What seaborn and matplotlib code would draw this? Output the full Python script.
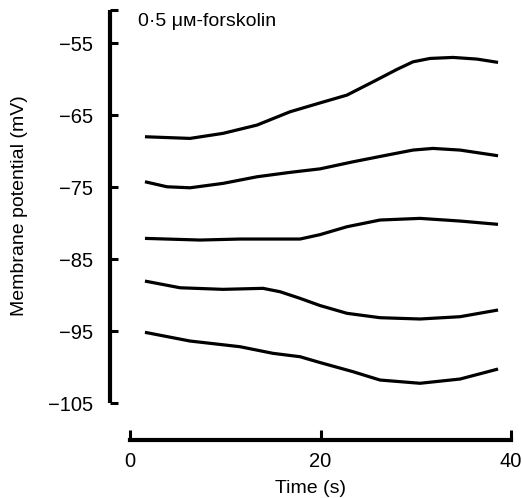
import numpy as np
import pandas as pd
import matplotlib
matplotlib.use("Agg")
import matplotlib.pyplot as plt
import seaborn as sns

# ---- data ----
t1 = [1.57, 6.30, 9.76, 13.33, 16.80, 19.95, 22.78, 25.51, 28.03, 29.71, 31.50, 33.91, 36.43, 38.64]
v1 = [-68.01, -68.24, -67.54, -66.39, -64.54, -63.31, -62.22, -60.38, -58.65, -57.60, -57.13, -56.99, -57.22, -57.68]
t2 = [1.57, 3.88, 6.30, 9.76, 13.33, 16.80, 19.95, 23.41, 26.98, 29.71, 31.81, 34.65, 38.64]
v2 = [-74.26, -74.96, -75.10, -74.49, -73.57, -72.96, -72.47, -71.49, -70.56, -69.86, -69.63, -69.86, -70.65]
t3 = [1.57, 7.35, 11.55, 17.85, 19.95, 22.78, 26.25, 30.45, 34.65, 38.64]
v3 = [-82.13, -82.36, -82.22, -82.22, -81.61, -80.51, -79.58, -79.35, -79.72, -80.18]
t4 = [1.57, 5.25, 9.76, 13.96, 15.75, 17.85, 19.95, 22.78, 26.25, 30.45, 34.65, 38.64]
v4 = [-88.06, -88.99, -89.21, -89.07, -89.54, -90.46, -91.46, -92.54, -93.15, -93.33, -93.01, -92.08]
t5 = [1.57, 6.30, 11.55, 15.01, 17.85, 19.95, 23.41, 26.25, 30.45, 34.65, 38.64]
v5 = [-95.18, -96.39, -97.18, -98.10, -98.57, -99.38, -100.65, -101.81, -102.26, -101.67, -100.28]
y_ticks = [-105, -95, -85, -75, -65, -55]
x_ticks = [0, 20, 40]

frames = []
for name, tt, vv in [("1", t1, v1), ("2", t2, v2), ("3", t3, v3), ("4", t4, v4), ("5", t5, v5)]:
    frames.append(pd.DataFrame({"time": tt, "mV": vv, "trace": name}))
df = pd.concat(frames, ignore_index=True)

sns.set_style("ticks")
plt.rcParams["font.family"] = ["Liberation Sans", "DejaVu Sans"]
plt.rcParams["text.color"] = "black"
plt.rcParams["axes.labelcolor"] = "black"
plt.rcParams["xtick.color"] = "black"
plt.rcParams["ytick.color"] = "black"
plt.rcParams["axes.edgecolor"] = "black"

W, H = 522, 498
fig = plt.figure(figsize=(W / 100, H / 100), dpi=100)
ax = fig.add_axes([110 / W, (H - 403) / H, (511 - 110) / W, (403 - 10) / H])

sns.lineplot(data=df, x="time", y="mV", units="trace", estimator=None,
             color="black", lw=2.3, ax=ax, legend=False,
             solid_joinstyle="round", solid_capstyle="butt")

ax.set_xlim(-2.1, 40)
ax.set_ylim(-105, -50.4)
for s in ["top", "right"]:
    ax.spines[s].set_visible(False)
ax.spines["left"].set_linewidth(3.0)
ax.spines["left"].set_bounds(-105, -50.4)
ax.spines["left"].set_capstyle("butt")
ax.spines["bottom"].set_linewidth(3.0)
ax.spines["bottom"].set_position(("outward", 26.6))
ax.spines["bottom"].set_bounds(0, 40)

ax.set_yticks(y_ticks)
ax.set_yticklabels([f"\u2212{abs(v)}" for v in y_ticks])
ax.set_yticks([-50.4], minor=True)
ax.set_xticks(x_ticks)
ax.set_xticklabels([str(v) for v in x_ticks])
ax.tick_params(axis="y", which="both", direction="in", length=6, width=2.2, pad=12, labelsize=14.5)
ax.tick_params(axis="x", direction="in", length=7, width=2.2, pad=9, labelsize=14.5)

ax.set_xlabel("Time (s)", fontsize=14, labelpad=6)
ax.set_ylabel("")
fig.text(20 / W, 1 - 206 / H, "Membrane potential (mV)", rotation=90,
         ha="center", va="center", fontsize=14)

fig.text(138 / W, 1 - 22 / H, "0\u00b75 \u03bc\u1d0d-forskolin", ha="left", va="center",
         fontsize=14)

fig.savefig("out.png", dpi=100)
